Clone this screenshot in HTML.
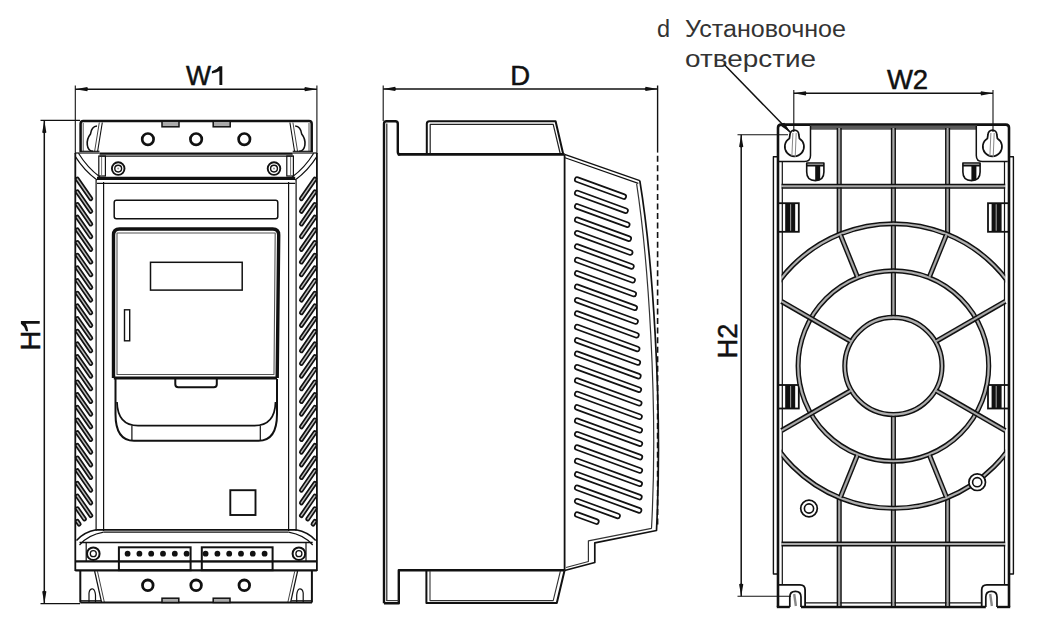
<!DOCTYPE html>
<html><head><meta charset="utf-8"><style>
html,body{margin:0;padding:0;background:#fff;width:1037px;height:630px;overflow:hidden}
svg{display:block} path{stroke-linejoin:round}
text{font-family:"Liberation Sans",sans-serif}
</style></head><body>
<svg width="1037" height="630" viewBox="0 0 1037 630">
<rect width="1037" height="630" fill="#fff"/>
<line x1="75.3" y1="89.2" x2="316.9" y2="89.2" stroke="#111" stroke-width="1.5" />
<line x1="75.3" y1="85.5" x2="75.3" y2="154" stroke="#111" stroke-width="1.1" />
<line x1="316.9" y1="85.5" x2="316.9" y2="154" stroke="#111" stroke-width="1.1" />
<path d="M75.3,89.2 L87.3,87.1 Q88.8,89.2 87.3,91.3 Z" fill="#111"/>
<path d="M316.9,89.2 L304.9,91.3 Q303.4,89.2 304.9,87.1 Z" fill="#111"/>
<text x="186" y="85" font-size="27.5" fill="#111" textLength="25" lengthAdjust="spacingAndGlyphs" stroke="#111" stroke-width="0.5">W</text>
<path d="M219.4,66.2 L222.3,66.2 L222.3,85 L219.4,85 L219.4,71.09 Q216.4,72.97 211.9,73.53 L211.9,71.28 Q216.9,69.96 219.4,66.2 Z" fill="#111"/>
<line x1="40.5" y1="120.4" x2="80" y2="120.4" stroke="#111" stroke-width="1.1" />
<line x1="40.5" y1="603.6" x2="80" y2="603.6" stroke="#111" stroke-width="1.1" />
<line x1="44.3" y1="120.4" x2="44.3" y2="603.6" stroke="#111" stroke-width="1.5" />
<path d="M44.3,120.4 L46.4,132.4 Q44.3,133.9 42.2,132.4 Z" fill="#111"/>
<path d="M44.3,603.6 L42.2,591.6 Q44.3,590.1 46.4,591.6 Z" fill="#111"/>
<g transform="translate(39.7,335.2) rotate(-90)">
<text x="-5.4" y="0" font-size="27.5" fill="#111" text-anchor="middle" stroke="#111" stroke-width="0.5">H</text>
<path d="M11.4,-18.8 L14.3,-18.8 L14.3,0 L11.4,0 L11.4,-13.91 Q8.4,-12.03 3.9,-11.47 L3.9,-13.72 Q8.9,-15.04 11.4,-18.8 Z" fill="#111"/>
</g>
<line x1="383.2" y1="88.9" x2="657.6" y2="88.9" stroke="#111" stroke-width="1.5" />
<line x1="383.2" y1="85.5" x2="383.2" y2="121" stroke="#111" stroke-width="1.1" />
<line x1="657.6" y1="85.5" x2="657.6" y2="152.6" stroke="#111" stroke-width="1.4" />
<line x1="657.6" y1="155.7" x2="657.6" y2="528" stroke="#111" stroke-width="1.6" stroke-dasharray="6 3.55"/>
<path d="M383.2,88.9 L395.2,86.8 Q396.7,88.9 395.2,91 Z" fill="#111"/>
<path d="M657.6,88.9 L645.6,91 Q644.1,88.9 645.6,86.8 Z" fill="#111"/>
<text x="520.2" y="85" font-size="27.5" fill="#111" text-anchor="middle" stroke="#111" stroke-width="0.5">D</text>
<line x1="793.8" y1="93.3" x2="993" y2="93.3" stroke="#111" stroke-width="1.5" />
<line x1="793.8" y1="90" x2="793.8" y2="132" stroke="#111" stroke-width="1.1" />
<line x1="993" y1="90" x2="993" y2="132" stroke="#111" stroke-width="1.1" />
<path d="M793.8,93.3 L805.8,91.2 Q807.3,93.3 805.8,95.4 Z" fill="#111"/>
<path d="M993,93.3 L981,95.4 Q979.5,93.3 981,91.2 Z" fill="#111"/>
<text x="907.5" y="88.6" font-size="27.5" fill="#111" text-anchor="middle" stroke="#111" stroke-width="0.5">W2</text>
<line x1="737.5" y1="134.8" x2="788" y2="134.8" stroke="#111" stroke-width="1.1" />
<line x1="737.5" y1="596.2" x2="791" y2="596.2" stroke="#111" stroke-width="1.1" />
<line x1="741.2" y1="134.8" x2="741.2" y2="596.2" stroke="#111" stroke-width="1.5" />
<path d="M741.2,134.8 L743.3,146.8 Q741.2,148.3 739.1,146.8 Z" fill="#111"/>
<path d="M741.2,596.2 L739.1,584.2 Q741.2,582.7 743.3,584.2 Z" fill="#111"/>
<text x="0" y="0" font-size="27.5" fill="#111" text-anchor="middle" stroke="#111" stroke-width="0.5" transform="translate(736.9,341) rotate(-90)">H2</text>
<text x="657" y="37" font-size="23.5" fill="#333" text-anchor="start" stroke="none">d</text>
<text x="685" y="37" font-size="23.5" fill="#333" text-anchor="start" textLength="161" lengthAdjust="spacingAndGlyphs" stroke="none">Установочное</text>
<text x="685" y="66.8" font-size="23.5" fill="#333" text-anchor="start" textLength="131" lengthAdjust="spacingAndGlyphs" stroke="none">отверстие</text>
<line x1="724.5" y1="64.8" x2="790" y2="132" stroke="#111" stroke-width="1.5" />
<path d="M791,133 L781.05,125.94 Q781.58,123.33 784.2,122.87 Z" fill="#111"/>
<path d="M80.6,152 L80.6,123.7 Q80.6,121 83.3,121 L309,121 Q311.7,121 311.7,123.7 L311.7,152" stroke="#111" stroke-width="2.5" fill="none" />
<line x1="83.2" y1="123" x2="83.2" y2="151" stroke="#555" stroke-width="1.0" />
<line x1="102.3" y1="122.5" x2="97.6" y2="151.5" stroke="#111" stroke-width="1.1" />
<line x1="99.3" y1="122.5" x2="94.6" y2="151.5" stroke="#444" stroke-width="1.0" />
<path d="M97,126 Q91.5,126.5 90.5,134 Q86.5,139 87.3,145 Q88,151 93,151.3" stroke="#111" stroke-width="1.6" fill="none" />
<line x1="80.3" y1="151.3" x2="99.5" y2="151.3" stroke="#111" stroke-width="1.2" />
<line x1="309" y1="123" x2="309" y2="151" stroke="#555" stroke-width="1.0" />
<line x1="289.9" y1="122.5" x2="294.6" y2="151.5" stroke="#111" stroke-width="1.1" />
<line x1="292.9" y1="122.5" x2="297.6" y2="151.5" stroke="#444" stroke-width="1.0" />
<path d="M295.2,126 Q300.7,126.5 301.7,134 Q305.7,139 304.9,145 Q304.2,151 299.2,151.3" stroke="#111" stroke-width="1.6" fill="none" />
<line x1="311.9" y1="151.3" x2="292.7" y2="151.3" stroke="#111" stroke-width="1.2" />
<circle cx="147.9" cy="139.2" r="5.7" stroke="#111" stroke-width="2.7" fill="none"/>
<circle cx="196.1" cy="139.2" r="5.7" stroke="#111" stroke-width="2.7" fill="none"/>
<circle cx="244.3" cy="139.2" r="5.7" stroke="#111" stroke-width="2.7" fill="none"/>
<rect x="162" y="121.2" width="17" height="5.6" rx="0" stroke="#111" stroke-width="1.5" fill="#aaa"/>
<rect x="213.2" y="121.2" width="17" height="5.6" rx="0" stroke="#111" stroke-width="1.5" fill="#aaa"/>
<line x1="99.5" y1="153.6" x2="292.7" y2="153.6" stroke="#111" stroke-width="2.3" />
<line x1="99.5" y1="156.2" x2="292.7" y2="156.2" stroke="#111" stroke-width="1.2" />
<line x1="97" y1="178.3" x2="295.2" y2="178.3" stroke="#111" stroke-width="3.2" />
<line x1="97" y1="183.4" x2="295.2" y2="183.4" stroke="#111" stroke-width="1.1" />
<rect x="98.8" y="156" width="6.6" height="20" rx="0" stroke="#111" stroke-width="1.2" fill="none"/>
<line x1="101.6" y1="157" x2="101.6" y2="175" stroke="#666" stroke-width="0.9" />
<circle cx="118.2" cy="168.6" r="6.3" stroke="#111" stroke-width="1.9" fill="none"/>
<circle cx="118.2" cy="168.6" r="3.4" stroke="#111" stroke-width="1.4" fill="none"/>
<circle cx="118.2" cy="168.6" r="1" stroke="#999" stroke-width="0" fill="#999"/>
<path d="M75.3,156.5 Q84,170.4 97,180" stroke="#111" stroke-width="1.4" fill="none" />
<path d="M78.5,153.2 Q87,167.2 100,177" stroke="#111" stroke-width="1.2" fill="none" />
<line x1="75.3" y1="153" x2="99.5" y2="153" stroke="#111" stroke-width="1.2" />
<line x1="75.3" y1="153" x2="75.3" y2="571" stroke="#111" stroke-width="1.8" />
<line x1="96.1" y1="180" x2="96.1" y2="531" stroke="#111" stroke-width="1.2" />
<line x1="103.6" y1="182" x2="103.6" y2="531" stroke="#111" stroke-width="1.2" />
<rect x="286.8" y="156" width="6.6" height="20" rx="0" stroke="#111" stroke-width="1.2" fill="none"/>
<line x1="290.6" y1="157" x2="290.6" y2="175" stroke="#666" stroke-width="0.9" />
<circle cx="274" cy="168.6" r="6.3" stroke="#111" stroke-width="1.9" fill="none"/>
<circle cx="274" cy="168.6" r="3.4" stroke="#111" stroke-width="1.4" fill="none"/>
<circle cx="274" cy="168.6" r="1" stroke="#999" stroke-width="0" fill="#999"/>
<path d="M316.9,156.5 Q308.2,170.4 295.2,180" stroke="#111" stroke-width="1.4" fill="none" />
<path d="M313.7,153.2 Q305.2,167.2 292.2,177" stroke="#111" stroke-width="1.2" fill="none" />
<line x1="316.9" y1="153" x2="292.7" y2="153" stroke="#111" stroke-width="1.2" />
<line x1="316.9" y1="153" x2="316.9" y2="571" stroke="#111" stroke-width="1.8" />
<line x1="296.1" y1="180" x2="296.1" y2="531" stroke="#111" stroke-width="1.2" />
<line x1="288.6" y1="182" x2="288.6" y2="531" stroke="#111" stroke-width="1.2" />
<line x1="77.3" y1="179.1" x2="90.8" y2="198.7" stroke="#111" stroke-width="4.8" stroke-linecap="round"/>
<line x1="77.3" y1="179.1" x2="90.8" y2="198.7" stroke="#bbb" stroke-width="1.4" stroke-linecap="round"/>
<line x1="314.9" y1="179.1" x2="301.4" y2="198.7" stroke="#111" stroke-width="4.8" stroke-linecap="round"/>
<line x1="314.9" y1="179.1" x2="301.4" y2="198.7" stroke="#bbb" stroke-width="1.4" stroke-linecap="round"/>
<line x1="77.3" y1="191.78" x2="90.8" y2="211.38" stroke="#111" stroke-width="4.8" stroke-linecap="round"/>
<line x1="77.3" y1="191.78" x2="90.8" y2="211.38" stroke="#bbb" stroke-width="1.4" stroke-linecap="round"/>
<line x1="314.9" y1="191.78" x2="301.4" y2="211.38" stroke="#111" stroke-width="4.8" stroke-linecap="round"/>
<line x1="314.9" y1="191.78" x2="301.4" y2="211.38" stroke="#bbb" stroke-width="1.4" stroke-linecap="round"/>
<line x1="77.3" y1="204.45" x2="90.8" y2="224.05" stroke="#111" stroke-width="4.8" stroke-linecap="round"/>
<line x1="77.3" y1="204.45" x2="90.8" y2="224.05" stroke="#bbb" stroke-width="1.4" stroke-linecap="round"/>
<line x1="314.9" y1="204.45" x2="301.4" y2="224.05" stroke="#111" stroke-width="4.8" stroke-linecap="round"/>
<line x1="314.9" y1="204.45" x2="301.4" y2="224.05" stroke="#bbb" stroke-width="1.4" stroke-linecap="round"/>
<line x1="77.3" y1="217.13" x2="90.8" y2="236.73" stroke="#111" stroke-width="4.8" stroke-linecap="round"/>
<line x1="77.3" y1="217.13" x2="90.8" y2="236.73" stroke="#bbb" stroke-width="1.4" stroke-linecap="round"/>
<line x1="314.9" y1="217.13" x2="301.4" y2="236.73" stroke="#111" stroke-width="4.8" stroke-linecap="round"/>
<line x1="314.9" y1="217.13" x2="301.4" y2="236.73" stroke="#bbb" stroke-width="1.4" stroke-linecap="round"/>
<line x1="77.3" y1="229.8" x2="90.8" y2="249.4" stroke="#111" stroke-width="4.8" stroke-linecap="round"/>
<line x1="77.3" y1="229.8" x2="90.8" y2="249.4" stroke="#bbb" stroke-width="1.4" stroke-linecap="round"/>
<line x1="314.9" y1="229.8" x2="301.4" y2="249.4" stroke="#111" stroke-width="4.8" stroke-linecap="round"/>
<line x1="314.9" y1="229.8" x2="301.4" y2="249.4" stroke="#bbb" stroke-width="1.4" stroke-linecap="round"/>
<line x1="77.3" y1="242.48" x2="90.8" y2="262.08" stroke="#111" stroke-width="4.8" stroke-linecap="round"/>
<line x1="77.3" y1="242.48" x2="90.8" y2="262.08" stroke="#bbb" stroke-width="1.4" stroke-linecap="round"/>
<line x1="314.9" y1="242.48" x2="301.4" y2="262.08" stroke="#111" stroke-width="4.8" stroke-linecap="round"/>
<line x1="314.9" y1="242.48" x2="301.4" y2="262.08" stroke="#bbb" stroke-width="1.4" stroke-linecap="round"/>
<line x1="77.3" y1="255.16" x2="90.8" y2="274.76" stroke="#111" stroke-width="4.8" stroke-linecap="round"/>
<line x1="77.3" y1="255.16" x2="90.8" y2="274.76" stroke="#bbb" stroke-width="1.4" stroke-linecap="round"/>
<line x1="314.9" y1="255.16" x2="301.4" y2="274.76" stroke="#111" stroke-width="4.8" stroke-linecap="round"/>
<line x1="314.9" y1="255.16" x2="301.4" y2="274.76" stroke="#bbb" stroke-width="1.4" stroke-linecap="round"/>
<line x1="77.3" y1="267.83" x2="90.8" y2="287.43" stroke="#111" stroke-width="4.8" stroke-linecap="round"/>
<line x1="77.3" y1="267.83" x2="90.8" y2="287.43" stroke="#bbb" stroke-width="1.4" stroke-linecap="round"/>
<line x1="314.9" y1="267.83" x2="301.4" y2="287.43" stroke="#111" stroke-width="4.8" stroke-linecap="round"/>
<line x1="314.9" y1="267.83" x2="301.4" y2="287.43" stroke="#bbb" stroke-width="1.4" stroke-linecap="round"/>
<line x1="77.3" y1="280.51" x2="90.8" y2="300.11" stroke="#111" stroke-width="4.8" stroke-linecap="round"/>
<line x1="77.3" y1="280.51" x2="90.8" y2="300.11" stroke="#bbb" stroke-width="1.4" stroke-linecap="round"/>
<line x1="314.9" y1="280.51" x2="301.4" y2="300.11" stroke="#111" stroke-width="4.8" stroke-linecap="round"/>
<line x1="314.9" y1="280.51" x2="301.4" y2="300.11" stroke="#bbb" stroke-width="1.4" stroke-linecap="round"/>
<line x1="77.3" y1="293.18" x2="90.8" y2="312.78" stroke="#111" stroke-width="4.8" stroke-linecap="round"/>
<line x1="77.3" y1="293.18" x2="90.8" y2="312.78" stroke="#bbb" stroke-width="1.4" stroke-linecap="round"/>
<line x1="314.9" y1="293.18" x2="301.4" y2="312.78" stroke="#111" stroke-width="4.8" stroke-linecap="round"/>
<line x1="314.9" y1="293.18" x2="301.4" y2="312.78" stroke="#bbb" stroke-width="1.4" stroke-linecap="round"/>
<line x1="77.3" y1="305.86" x2="90.8" y2="325.46" stroke="#111" stroke-width="4.8" stroke-linecap="round"/>
<line x1="77.3" y1="305.86" x2="90.8" y2="325.46" stroke="#bbb" stroke-width="1.4" stroke-linecap="round"/>
<line x1="314.9" y1="305.86" x2="301.4" y2="325.46" stroke="#111" stroke-width="4.8" stroke-linecap="round"/>
<line x1="314.9" y1="305.86" x2="301.4" y2="325.46" stroke="#bbb" stroke-width="1.4" stroke-linecap="round"/>
<line x1="77.3" y1="318.54" x2="90.8" y2="338.14" stroke="#111" stroke-width="4.8" stroke-linecap="round"/>
<line x1="77.3" y1="318.54" x2="90.8" y2="338.14" stroke="#bbb" stroke-width="1.4" stroke-linecap="round"/>
<line x1="314.9" y1="318.54" x2="301.4" y2="338.14" stroke="#111" stroke-width="4.8" stroke-linecap="round"/>
<line x1="314.9" y1="318.54" x2="301.4" y2="338.14" stroke="#bbb" stroke-width="1.4" stroke-linecap="round"/>
<line x1="77.3" y1="331.21" x2="90.8" y2="350.81" stroke="#111" stroke-width="4.8" stroke-linecap="round"/>
<line x1="77.3" y1="331.21" x2="90.8" y2="350.81" stroke="#bbb" stroke-width="1.4" stroke-linecap="round"/>
<line x1="314.9" y1="331.21" x2="301.4" y2="350.81" stroke="#111" stroke-width="4.8" stroke-linecap="round"/>
<line x1="314.9" y1="331.21" x2="301.4" y2="350.81" stroke="#bbb" stroke-width="1.4" stroke-linecap="round"/>
<line x1="77.3" y1="343.89" x2="90.8" y2="363.49" stroke="#111" stroke-width="4.8" stroke-linecap="round"/>
<line x1="77.3" y1="343.89" x2="90.8" y2="363.49" stroke="#bbb" stroke-width="1.4" stroke-linecap="round"/>
<line x1="314.9" y1="343.89" x2="301.4" y2="363.49" stroke="#111" stroke-width="4.8" stroke-linecap="round"/>
<line x1="314.9" y1="343.89" x2="301.4" y2="363.49" stroke="#bbb" stroke-width="1.4" stroke-linecap="round"/>
<line x1="77.3" y1="356.56" x2="90.8" y2="376.16" stroke="#111" stroke-width="4.8" stroke-linecap="round"/>
<line x1="77.3" y1="356.56" x2="90.8" y2="376.16" stroke="#bbb" stroke-width="1.4" stroke-linecap="round"/>
<line x1="314.9" y1="356.56" x2="301.4" y2="376.16" stroke="#111" stroke-width="4.8" stroke-linecap="round"/>
<line x1="314.9" y1="356.56" x2="301.4" y2="376.16" stroke="#bbb" stroke-width="1.4" stroke-linecap="round"/>
<line x1="77.3" y1="369.24" x2="90.8" y2="388.84" stroke="#111" stroke-width="4.8" stroke-linecap="round"/>
<line x1="77.3" y1="369.24" x2="90.8" y2="388.84" stroke="#bbb" stroke-width="1.4" stroke-linecap="round"/>
<line x1="314.9" y1="369.24" x2="301.4" y2="388.84" stroke="#111" stroke-width="4.8" stroke-linecap="round"/>
<line x1="314.9" y1="369.24" x2="301.4" y2="388.84" stroke="#bbb" stroke-width="1.4" stroke-linecap="round"/>
<line x1="77.3" y1="381.92" x2="90.8" y2="401.52" stroke="#111" stroke-width="4.8" stroke-linecap="round"/>
<line x1="77.3" y1="381.92" x2="90.8" y2="401.52" stroke="#bbb" stroke-width="1.4" stroke-linecap="round"/>
<line x1="314.9" y1="381.92" x2="301.4" y2="401.52" stroke="#111" stroke-width="4.8" stroke-linecap="round"/>
<line x1="314.9" y1="381.92" x2="301.4" y2="401.52" stroke="#bbb" stroke-width="1.4" stroke-linecap="round"/>
<line x1="77.3" y1="394.59" x2="90.8" y2="414.19" stroke="#111" stroke-width="4.8" stroke-linecap="round"/>
<line x1="77.3" y1="394.59" x2="90.8" y2="414.19" stroke="#bbb" stroke-width="1.4" stroke-linecap="round"/>
<line x1="314.9" y1="394.59" x2="301.4" y2="414.19" stroke="#111" stroke-width="4.8" stroke-linecap="round"/>
<line x1="314.9" y1="394.59" x2="301.4" y2="414.19" stroke="#bbb" stroke-width="1.4" stroke-linecap="round"/>
<line x1="77.3" y1="407.27" x2="90.8" y2="426.87" stroke="#111" stroke-width="4.8" stroke-linecap="round"/>
<line x1="77.3" y1="407.27" x2="90.8" y2="426.87" stroke="#bbb" stroke-width="1.4" stroke-linecap="round"/>
<line x1="314.9" y1="407.27" x2="301.4" y2="426.87" stroke="#111" stroke-width="4.8" stroke-linecap="round"/>
<line x1="314.9" y1="407.27" x2="301.4" y2="426.87" stroke="#bbb" stroke-width="1.4" stroke-linecap="round"/>
<line x1="77.3" y1="419.94" x2="90.8" y2="439.54" stroke="#111" stroke-width="4.8" stroke-linecap="round"/>
<line x1="77.3" y1="419.94" x2="90.8" y2="439.54" stroke="#bbb" stroke-width="1.4" stroke-linecap="round"/>
<line x1="314.9" y1="419.94" x2="301.4" y2="439.54" stroke="#111" stroke-width="4.8" stroke-linecap="round"/>
<line x1="314.9" y1="419.94" x2="301.4" y2="439.54" stroke="#bbb" stroke-width="1.4" stroke-linecap="round"/>
<line x1="77.3" y1="432.62" x2="90.8" y2="452.22" stroke="#111" stroke-width="4.8" stroke-linecap="round"/>
<line x1="77.3" y1="432.62" x2="90.8" y2="452.22" stroke="#bbb" stroke-width="1.4" stroke-linecap="round"/>
<line x1="314.9" y1="432.62" x2="301.4" y2="452.22" stroke="#111" stroke-width="4.8" stroke-linecap="round"/>
<line x1="314.9" y1="432.62" x2="301.4" y2="452.22" stroke="#bbb" stroke-width="1.4" stroke-linecap="round"/>
<line x1="77.3" y1="445.3" x2="90.8" y2="464.9" stroke="#111" stroke-width="4.8" stroke-linecap="round"/>
<line x1="77.3" y1="445.3" x2="90.8" y2="464.9" stroke="#bbb" stroke-width="1.4" stroke-linecap="round"/>
<line x1="314.9" y1="445.3" x2="301.4" y2="464.9" stroke="#111" stroke-width="4.8" stroke-linecap="round"/>
<line x1="314.9" y1="445.3" x2="301.4" y2="464.9" stroke="#bbb" stroke-width="1.4" stroke-linecap="round"/>
<line x1="77.3" y1="457.97" x2="90.8" y2="477.57" stroke="#111" stroke-width="4.8" stroke-linecap="round"/>
<line x1="77.3" y1="457.97" x2="90.8" y2="477.57" stroke="#bbb" stroke-width="1.4" stroke-linecap="round"/>
<line x1="314.9" y1="457.97" x2="301.4" y2="477.57" stroke="#111" stroke-width="4.8" stroke-linecap="round"/>
<line x1="314.9" y1="457.97" x2="301.4" y2="477.57" stroke="#bbb" stroke-width="1.4" stroke-linecap="round"/>
<line x1="77.3" y1="470.65" x2="90.8" y2="490.25" stroke="#111" stroke-width="4.8" stroke-linecap="round"/>
<line x1="77.3" y1="470.65" x2="90.8" y2="490.25" stroke="#bbb" stroke-width="1.4" stroke-linecap="round"/>
<line x1="314.9" y1="470.65" x2="301.4" y2="490.25" stroke="#111" stroke-width="4.8" stroke-linecap="round"/>
<line x1="314.9" y1="470.65" x2="301.4" y2="490.25" stroke="#bbb" stroke-width="1.4" stroke-linecap="round"/>
<line x1="77.3" y1="483.32" x2="90.8" y2="502.92" stroke="#111" stroke-width="4.8" stroke-linecap="round"/>
<line x1="77.3" y1="483.32" x2="90.8" y2="502.92" stroke="#bbb" stroke-width="1.4" stroke-linecap="round"/>
<line x1="314.9" y1="483.32" x2="301.4" y2="502.92" stroke="#111" stroke-width="4.8" stroke-linecap="round"/>
<line x1="314.9" y1="483.32" x2="301.4" y2="502.92" stroke="#bbb" stroke-width="1.4" stroke-linecap="round"/>
<line x1="77.3" y1="496" x2="90.8" y2="515.6" stroke="#111" stroke-width="4.8" stroke-linecap="round"/>
<line x1="77.3" y1="496" x2="90.8" y2="515.6" stroke="#bbb" stroke-width="1.4" stroke-linecap="round"/>
<line x1="314.9" y1="496" x2="301.4" y2="515.6" stroke="#111" stroke-width="4.8" stroke-linecap="round"/>
<line x1="314.9" y1="496" x2="301.4" y2="515.6" stroke="#bbb" stroke-width="1.4" stroke-linecap="round"/>
<line x1="77.3" y1="508.68" x2="84.4" y2="518.98" stroke="#111" stroke-width="4.8" stroke-linecap="round"/>
<line x1="77.3" y1="508.68" x2="84.4" y2="518.98" stroke="#bbb" stroke-width="1.4" stroke-linecap="round"/>
<line x1="314.9" y1="508.68" x2="307.8" y2="518.98" stroke="#111" stroke-width="4.8" stroke-linecap="round"/>
<line x1="314.9" y1="508.68" x2="307.8" y2="518.98" stroke="#bbb" stroke-width="1.4" stroke-linecap="round"/>
<line x1="77.3" y1="521.35" x2="79.2" y2="524.11" stroke="#111" stroke-width="4.8" stroke-linecap="round"/>
<line x1="77.3" y1="521.35" x2="79.2" y2="524.11" stroke="#bbb" stroke-width="1.4" stroke-linecap="round"/>
<line x1="314.9" y1="521.35" x2="313" y2="524.11" stroke="#111" stroke-width="4.8" stroke-linecap="round"/>
<line x1="314.9" y1="521.35" x2="313" y2="524.11" stroke="#bbb" stroke-width="1.4" stroke-linecap="round"/>
<rect x="114.2" y="200.3" width="163.6" height="18.4" rx="2.2" stroke="#111" stroke-width="1.5" fill="none"/>
<path d="M113.5,378 L113.5,235 Q113.5,229 119.5,229 L272.7,229 Q278.7,229 278.7,235 L277.2,378" stroke="#111" stroke-width="3.4" fill="none" />
<path d="M117,374.5 L117,233 L275.2,233 L274,374.5 Z" stroke="#555" stroke-width="1.1" fill="none" />
<path d="M113.8,378 L277,378" stroke="#111" stroke-width="3.2" fill="none" />
<rect x="150.5" y="262.3" width="91.7" height="27.8" rx="0" stroke="#111" stroke-width="1.5" fill="none"/>
<rect x="124.5" y="309.8" width="5.2" height="31" rx="0" stroke="#111" stroke-width="1.4" fill="none"/>
<path d="M175.3,379 L175.3,384.2 Q175.3,387.2 178.3,387.2 L213.8,387.2 Q216.8,387.2 216.8,384.2 L216.8,379" stroke="#111" stroke-width="2.0" fill="none" />
<path d="M115.5,379 L115.5,414 Q115.5,440.8 134,440.8 L258.5,440.8 Q277,440.8 277,414 L277,379" stroke="#111" stroke-width="2.0" fill="none" />
<path d="M117,402 Q117.6,425.6 138,425.6 L254.5,425.6 Q275,425.6 275.5,402" stroke="#111" stroke-width="1.7" fill="none" />
<line x1="131.9" y1="425.6" x2="131.9" y2="440.5" stroke="#111" stroke-width="1.2" />
<line x1="260.3" y1="425.6" x2="260.3" y2="440.5" stroke="#111" stroke-width="1.2" />
<rect x="230.3" y="490.2" width="25.2" height="24.8" rx="0" stroke="#111" stroke-width="1.9" fill="none"/>
<line x1="96.2" y1="529.8" x2="296" y2="529.8" stroke="#111" stroke-width="1.7" />
<line x1="103.6" y1="532.2" x2="288.6" y2="532.2" stroke="#111" stroke-width="1.3" />
<line x1="79.5" y1="542.6" x2="312.7" y2="542.6" stroke="#111" stroke-width="1.5" />
<line x1="76" y1="561.3" x2="316.2" y2="561.3" stroke="#111" stroke-width="2.2" />
<line x1="75.3" y1="570.3" x2="316.9" y2="570.3" stroke="#111" stroke-width="2.2" />
<path d="M96.2,529.8 Q84,532 76.5,540.5" stroke="#111" stroke-width="1.5" fill="none" />
<path d="M103.6,532.2 Q88,535 79.5,545" stroke="#111" stroke-width="1.2" fill="none" />
<line x1="86.2" y1="542.6" x2="86.2" y2="562" stroke="#111" stroke-width="1.2" />
<circle cx="93.3" cy="553.7" r="6.3" stroke="#111" stroke-width="2.0" fill="none"/>
<circle cx="93.3" cy="553.7" r="3" stroke="#111" stroke-width="1.3" fill="none"/>
<line x1="80.3" y1="570.3" x2="80.3" y2="602.5" stroke="#111" stroke-width="2.0" />
<line x1="94.6" y1="571" x2="101.5" y2="602" stroke="#111" stroke-width="1.2" />
<line x1="97.4" y1="571" x2="104.3" y2="602" stroke="#444" stroke-width="1.0" />
<path d="M89,602 L89,593 Q89.5,588.5 93,589 Q95,590 95.5,595 L95.5,602" stroke="#111" stroke-width="1.2" fill="none" />
<line x1="80.3" y1="600.8" x2="101" y2="600.8" stroke="#111" stroke-width="1.3" />
<path d="M296,529.8 Q308.2,532 315.7,540.5" stroke="#111" stroke-width="1.5" fill="none" />
<path d="M288.6,532.2 Q304.2,535 312.7,545" stroke="#111" stroke-width="1.2" fill="none" />
<line x1="306" y1="542.6" x2="306" y2="562" stroke="#111" stroke-width="1.2" />
<circle cx="298.9" cy="553.7" r="6.3" stroke="#111" stroke-width="2.0" fill="none"/>
<circle cx="298.9" cy="553.7" r="3" stroke="#111" stroke-width="1.3" fill="none"/>
<line x1="311.9" y1="570.3" x2="311.9" y2="602.5" stroke="#111" stroke-width="2.0" />
<line x1="297.6" y1="571" x2="290.7" y2="602" stroke="#111" stroke-width="1.2" />
<line x1="294.8" y1="571" x2="287.9" y2="602" stroke="#444" stroke-width="1.0" />
<path d="M303.2,602 L303.2,593 Q302.7,588.5 299.2,589 Q297.2,590 296.7,595 L296.7,602" stroke="#111" stroke-width="1.2" fill="none" />
<line x1="311.9" y1="600.8" x2="291.2" y2="600.8" stroke="#111" stroke-width="1.3" />
<rect x="118.9" y="547.3" width="71.7" height="22.9" rx="0" stroke="#111" stroke-width="2.0" fill="none"/>
<line x1="118.9" y1="561.6" x2="190.6" y2="561.6" stroke="#111" stroke-width="1.4" />
<rect x="201.8" y="547.3" width="70.8" height="22.9" rx="0" stroke="#111" stroke-width="2.0" fill="none"/>
<line x1="201.8" y1="561.6" x2="272.6" y2="561.6" stroke="#111" stroke-width="1.4" />
<circle cx="127.6" cy="553.7" r="2.9" stroke="#111" stroke-width="0" fill="#111"/>
<circle cx="264.6" cy="553.7" r="2.9" stroke="#111" stroke-width="0" fill="#111"/>
<circle cx="139.4" cy="553.7" r="2.9" stroke="#111" stroke-width="0" fill="#111"/>
<circle cx="252.8" cy="553.7" r="2.9" stroke="#111" stroke-width="0" fill="#111"/>
<circle cx="151.2" cy="553.7" r="2.9" stroke="#111" stroke-width="0" fill="#111"/>
<circle cx="241" cy="553.7" r="2.9" stroke="#111" stroke-width="0" fill="#111"/>
<circle cx="163" cy="553.7" r="2.9" stroke="#111" stroke-width="0" fill="#111"/>
<circle cx="229.2" cy="553.7" r="2.9" stroke="#111" stroke-width="0" fill="#111"/>
<circle cx="174.8" cy="553.7" r="2.9" stroke="#111" stroke-width="0" fill="#111"/>
<circle cx="217.4" cy="553.7" r="2.9" stroke="#111" stroke-width="0" fill="#111"/>
<circle cx="186.6" cy="553.7" r="2.9" stroke="#111" stroke-width="0" fill="#111"/>
<circle cx="205.6" cy="553.7" r="2.9" stroke="#111" stroke-width="0" fill="#111"/>
<line x1="80.3" y1="602.5" x2="312" y2="602.5" stroke="#111" stroke-width="2.2" />
<circle cx="147.8" cy="585.3" r="5.3" stroke="#111" stroke-width="2.8" fill="none"/>
<circle cx="196.1" cy="585.3" r="5.3" stroke="#111" stroke-width="2.8" fill="none"/>
<circle cx="244.3" cy="585.3" r="5.3" stroke="#111" stroke-width="2.8" fill="none"/>
<rect x="162" y="598.2" width="16.8" height="4.3" rx="0" stroke="#111" stroke-width="1.5" fill="#aaa"/>
<rect x="213.2" y="598.2" width="16.8" height="4.3" rx="0" stroke="#111" stroke-width="1.5" fill="#aaa"/>
<path d="M384,603.2 L384,123.7 Q384,121.2 386.5,121.2 L395.3,121.2 Q397.8,121.2 397.8,123.7 L397.8,151.9 Q397.8,154.4 400.3,154.4" stroke="#111" stroke-width="2.4" fill="none" />
<line x1="386.8" y1="123.5" x2="386.8" y2="601" stroke="#222" stroke-width="1.2" />
<path d="M426.8,154.4 L426.8,123.7 Q426.8,121.2 429.3,121.2 L555.6,121.2 L563.3,154.4" stroke="#111" stroke-width="2.0" fill="none" />
<path d="M430.2,154 L430.2,124.4 L553.2,124.4 L560.3,154" stroke="#222" stroke-width="1.2" fill="none" />
<line x1="397.8" y1="154.4" x2="564.6" y2="154.4" stroke="#111" stroke-width="2.6" />
<line x1="564.6" y1="154.4" x2="564.6" y2="570" stroke="#111" stroke-width="1.8" />
<line x1="564.6" y1="154.4" x2="639.8" y2="180.6" stroke="#111" stroke-width="1.5" />
<line x1="565" y1="157.8" x2="638.3" y2="183.4" stroke="#111" stroke-width="1.2" />
<path d="M639.8,180.6 C652,255 663,400 656.5,530.5 L594.8,542.8 L594.8,562.5 L564.6,570.5" stroke="#111" stroke-width="1.7" fill="none" />
<path d="M636.6,183.6 C647.5,255 658.5,400 651.5,528.3 L588.4,540.8 L588.4,561.5 L566,567.5" stroke="#333" stroke-width="1.2" fill="none" />
<path d="M384,603.2 L398.8,603.2 L398.8,570.2 L564.6,570.2" stroke="#111" stroke-width="2.4" fill="none" />
<path d="M426.4,570.2 L426.4,603 L556.8,603 L564.6,570.2" stroke="#111" stroke-width="2.0" fill="none" />
<path d="M430,571 L430,600.6 L553.2,600.6 L560.4,571" stroke="#333" stroke-width="1.1" fill="none" />
<line x1="386.5" y1="600.6" x2="398.8" y2="600.6" stroke="#333" stroke-width="1.1" />
<line x1="577.2" y1="179.6" x2="623.75" y2="196.59" stroke="#111" stroke-width="6.4" stroke-linecap="round"/>
<line x1="577.2" y1="179.6" x2="623.75" y2="196.59" stroke="#fff" stroke-width="3.0" stroke-linecap="round"/>
<line x1="577.2" y1="193" x2="625.57" y2="210.65" stroke="#111" stroke-width="6.4" stroke-linecap="round"/>
<line x1="577.2" y1="193" x2="625.57" y2="210.65" stroke="#fff" stroke-width="3.0" stroke-linecap="round"/>
<line x1="577.2" y1="206.4" x2="627.25" y2="224.67" stroke="#111" stroke-width="6.4" stroke-linecap="round"/>
<line x1="577.2" y1="206.4" x2="627.25" y2="224.67" stroke="#fff" stroke-width="3.0" stroke-linecap="round"/>
<line x1="577.2" y1="219.8" x2="628.76" y2="238.62" stroke="#111" stroke-width="6.4" stroke-linecap="round"/>
<line x1="577.2" y1="219.8" x2="628.76" y2="238.62" stroke="#fff" stroke-width="3.0" stroke-linecap="round"/>
<line x1="577.2" y1="233.2" x2="630.17" y2="252.53" stroke="#111" stroke-width="6.4" stroke-linecap="round"/>
<line x1="577.2" y1="233.2" x2="630.17" y2="252.53" stroke="#fff" stroke-width="3.0" stroke-linecap="round"/>
<line x1="577.2" y1="246.6" x2="631.44" y2="266.4" stroke="#111" stroke-width="6.4" stroke-linecap="round"/>
<line x1="577.2" y1="246.6" x2="631.44" y2="266.4" stroke="#fff" stroke-width="3.0" stroke-linecap="round"/>
<line x1="577.2" y1="260" x2="632.65" y2="280.24" stroke="#111" stroke-width="6.4" stroke-linecap="round"/>
<line x1="577.2" y1="260" x2="632.65" y2="280.24" stroke="#fff" stroke-width="3.0" stroke-linecap="round"/>
<line x1="577.2" y1="273.4" x2="633.73" y2="294.03" stroke="#111" stroke-width="6.4" stroke-linecap="round"/>
<line x1="577.2" y1="273.4" x2="633.73" y2="294.03" stroke="#fff" stroke-width="3.0" stroke-linecap="round"/>
<line x1="577.2" y1="286.8" x2="634.7" y2="307.79" stroke="#111" stroke-width="6.4" stroke-linecap="round"/>
<line x1="577.2" y1="286.8" x2="634.7" y2="307.79" stroke="#fff" stroke-width="3.0" stroke-linecap="round"/>
<line x1="577.2" y1="300.2" x2="635.61" y2="321.52" stroke="#111" stroke-width="6.4" stroke-linecap="round"/>
<line x1="577.2" y1="300.2" x2="635.61" y2="321.52" stroke="#fff" stroke-width="3.0" stroke-linecap="round"/>
<line x1="577.2" y1="313.6" x2="636.45" y2="335.23" stroke="#111" stroke-width="6.4" stroke-linecap="round"/>
<line x1="577.2" y1="313.6" x2="636.45" y2="335.23" stroke="#fff" stroke-width="3.0" stroke-linecap="round"/>
<line x1="577.2" y1="327" x2="637.16" y2="348.89" stroke="#111" stroke-width="6.4" stroke-linecap="round"/>
<line x1="577.2" y1="327" x2="637.16" y2="348.89" stroke="#fff" stroke-width="3.0" stroke-linecap="round"/>
<line x1="577.2" y1="340.4" x2="637.83" y2="362.53" stroke="#111" stroke-width="6.4" stroke-linecap="round"/>
<line x1="577.2" y1="340.4" x2="637.83" y2="362.53" stroke="#fff" stroke-width="3.0" stroke-linecap="round"/>
<line x1="577.2" y1="353.8" x2="638.39" y2="376.13" stroke="#111" stroke-width="6.4" stroke-linecap="round"/>
<line x1="577.2" y1="353.8" x2="638.39" y2="376.13" stroke="#fff" stroke-width="3.0" stroke-linecap="round"/>
<line x1="577.2" y1="367.2" x2="638.85" y2="389.7" stroke="#111" stroke-width="6.4" stroke-linecap="round"/>
<line x1="577.2" y1="367.2" x2="638.85" y2="389.7" stroke="#fff" stroke-width="3.0" stroke-linecap="round"/>
<line x1="577.2" y1="380.6" x2="639.25" y2="403.25" stroke="#111" stroke-width="6.4" stroke-linecap="round"/>
<line x1="577.2" y1="380.6" x2="639.25" y2="403.25" stroke="#fff" stroke-width="3.0" stroke-linecap="round"/>
<line x1="577.2" y1="394" x2="639.56" y2="416.76" stroke="#111" stroke-width="6.4" stroke-linecap="round"/>
<line x1="577.2" y1="394" x2="639.56" y2="416.76" stroke="#fff" stroke-width="3.0" stroke-linecap="round"/>
<line x1="577.2" y1="407.4" x2="639.77" y2="430.24" stroke="#111" stroke-width="6.4" stroke-linecap="round"/>
<line x1="577.2" y1="407.4" x2="639.77" y2="430.24" stroke="#fff" stroke-width="3.0" stroke-linecap="round"/>
<line x1="577.2" y1="420.8" x2="639.9" y2="443.68" stroke="#111" stroke-width="6.4" stroke-linecap="round"/>
<line x1="577.2" y1="420.8" x2="639.9" y2="443.68" stroke="#fff" stroke-width="3.0" stroke-linecap="round"/>
<line x1="577.2" y1="434.2" x2="639.93" y2="457.1" stroke="#111" stroke-width="6.4" stroke-linecap="round"/>
<line x1="577.2" y1="434.2" x2="639.93" y2="457.1" stroke="#fff" stroke-width="3.0" stroke-linecap="round"/>
<line x1="577.2" y1="447.6" x2="639.87" y2="470.47" stroke="#111" stroke-width="6.4" stroke-linecap="round"/>
<line x1="577.2" y1="447.6" x2="639.87" y2="470.47" stroke="#fff" stroke-width="3.0" stroke-linecap="round"/>
<line x1="577.2" y1="461" x2="639.7" y2="483.81" stroke="#111" stroke-width="6.4" stroke-linecap="round"/>
<line x1="577.2" y1="461" x2="639.7" y2="483.81" stroke="#fff" stroke-width="3.0" stroke-linecap="round"/>
<line x1="577.2" y1="474.4" x2="639.43" y2="497.11" stroke="#111" stroke-width="6.4" stroke-linecap="round"/>
<line x1="577.2" y1="474.4" x2="639.43" y2="497.11" stroke="#fff" stroke-width="3.0" stroke-linecap="round"/>
<line x1="577.2" y1="487.8" x2="639.05" y2="510.38" stroke="#111" stroke-width="6.4" stroke-linecap="round"/>
<line x1="577.2" y1="487.8" x2="639.05" y2="510.38" stroke="#fff" stroke-width="3.0" stroke-linecap="round"/>
<line x1="577.2" y1="501.2" x2="617.6" y2="515.95" stroke="#111" stroke-width="6.4" stroke-linecap="round"/>
<line x1="577.2" y1="501.2" x2="617.6" y2="515.95" stroke="#fff" stroke-width="3.0" stroke-linecap="round"/>
<line x1="577.2" y1="514.6" x2="596.4" y2="521.61" stroke="#111" stroke-width="6.4" stroke-linecap="round"/>
<line x1="577.2" y1="514.6" x2="596.4" y2="521.61" stroke="#fff" stroke-width="3.0" stroke-linecap="round"/>
<path d="M778,607 L778,127.8 Q778,124.6 781.2,124.6 L1005.8,124.6 Q1009,124.6 1009,127.8 L1009,607" stroke="#111" stroke-width="2.6" fill="none" stroke-linejoin="round"/>
<line x1="810" y1="127.6" x2="977" y2="127.6" stroke="#5a5a5a" stroke-width="4.4" />
<line x1="776.8" y1="607" x2="789.8" y2="607" stroke="#111" stroke-width="2.4" />
<line x1="801" y1="607" x2="985.8" y2="607" stroke="#111" stroke-width="2.4" />
<line x1="997" y1="607" x2="1010.2" y2="607" stroke="#111" stroke-width="2.4" />
<line x1="805" y1="602.8" x2="982" y2="602.8" stroke="#111" stroke-width="1.3" />
<path d="M778,156.7 L773.4,156.7 L773.4,574 L778,574" stroke="#111" stroke-width="1.4" fill="none" />
<line x1="782.3" y1="161.5" x2="782.3" y2="585" stroke="#111" stroke-width="1.2" />
<path d="M810.5,126 L810.5,155.5 Q810.5,161.5 804.5,161.5 L779,161.5" stroke="#111" stroke-width="1.5" fill="none" />
<path d="M790,134.5 A4.4,4.4 0 0 1 798.8,134.5 L799.4,138.5 A9.6,9.6 0 1 1 789.4,138.5 Z" stroke="#111" stroke-width="1.7" fill="none"/>
<line x1="792.9" y1="133" x2="791.9" y2="156" stroke="#888" stroke-width="1.0" />
<line x1="796.2" y1="133" x2="795.2" y2="157" stroke="#888" stroke-width="1.0" />
<path d="M806.7,163 L823.9,163 L823.9,172 Q823.9,180.6 815.3,180.6 Q806.7,180.6 806.7,172 Z" stroke="#111" stroke-width="1.6" fill="none"/>
<line x1="806.7" y1="165.5" x2="823.9" y2="165.5" stroke="#111" stroke-width="2.0" />
<rect x="815.2" y="166" width="5" height="14" fill="#111"/>
<rect x="778" y="203.2" width="20.8" height="28.6" rx="0" stroke="#111" stroke-width="1.8" fill="none"/>
<rect x="785.2" y="203.2" width="10" height="28.6" fill="#111"/>
<line x1="790.6" y1="204.2" x2="790.6" y2="230.8" stroke="#999" stroke-width="1.1" />
<rect x="778" y="385" width="20.8" height="23.5" rx="0" stroke="#111" stroke-width="1.8" fill="none"/>
<rect x="785.2" y="385" width="10" height="23.5" fill="#111"/>
<line x1="790.6" y1="386" x2="790.6" y2="407.5" stroke="#999" stroke-width="1.1" />
<path d="M778,584.9 L800,584.9 Q805.1,584.9 805.1,590 L805.1,607" stroke="#111" stroke-width="1.8" fill="none" />
<path d="M789.8,607 L789.8,597 Q789.8,591.4 795.4,591.4 Q801,591.4 801,597 L801,607" stroke="#111" stroke-width="1.7" fill="none" />
<line x1="794.2" y1="594" x2="795.9" y2="606" stroke="#888" stroke-width="2.4" />
<path d="M1008.8,156.7 L1013.4,156.7 L1013.4,574 L1008.8,574" stroke="#111" stroke-width="1.4" fill="none" />
<line x1="1004.5" y1="161.5" x2="1004.5" y2="585" stroke="#111" stroke-width="1.2" />
<path d="M976.3,126 L976.3,155.5 Q976.3,161.5 982.3,161.5 L1007.8,161.5" stroke="#111" stroke-width="1.5" fill="none" />
<path d="M988,134.5 A4.4,4.4 0 0 1 996.8,134.5 L997.4,138.5 A9.6,9.6 0 1 1 987.4,138.5 Z" stroke="#111" stroke-width="1.7" fill="none"/>
<line x1="990.9" y1="133" x2="989.9" y2="156" stroke="#888" stroke-width="1.0" />
<line x1="994.2" y1="133" x2="993.2" y2="157" stroke="#888" stroke-width="1.0" />
<path d="M962.9,163 L980.1,163 L980.1,172 Q980.1,180.6 971.5,180.6 Q962.9,180.6 962.9,172 Z" stroke="#111" stroke-width="1.6" fill="none"/>
<line x1="962.9" y1="165.5" x2="980.1" y2="165.5" stroke="#111" stroke-width="2.0" />
<rect x="971.4" y="166" width="5" height="14" fill="#111"/>
<rect x="988" y="203.2" width="20.8" height="28.6" rx="0" stroke="#111" stroke-width="1.8" fill="none"/>
<rect x="991.6" y="203.2" width="10" height="28.6" fill="#111"/>
<line x1="996.2" y1="204.2" x2="996.2" y2="230.8" stroke="#999" stroke-width="1.1" />
<rect x="988" y="385" width="20.8" height="23.5" rx="0" stroke="#111" stroke-width="1.8" fill="none"/>
<rect x="991.6" y="385" width="10" height="23.5" fill="#111"/>
<line x1="996.2" y1="386" x2="996.2" y2="407.5" stroke="#999" stroke-width="1.1" />
<path d="M1008.8,584.9 L986.8,584.9 Q981.7,584.9 981.7,590 L981.7,607" stroke="#111" stroke-width="1.8" fill="none" />
<path d="M985.8,607 L985.8,597 Q985.8,591.4 991.4,591.4 Q997,591.4 997,597 L997,607" stroke="#111" stroke-width="1.7" fill="none" />
<line x1="990.2" y1="594" x2="991.9" y2="606" stroke="#888" stroke-width="2.4" />
<line x1="839.2" y1="128" x2="839.2" y2="235.43" stroke="#a8a8a8" stroke-width="2.5" />
<line x1="837.4" y1="128" x2="837.4" y2="235.43" stroke="#111" stroke-width="1.5" />
<line x1="841" y1="128" x2="841" y2="235.43" stroke="#111" stroke-width="1.5" />
<line x1="839.2" y1="496.57" x2="839.2" y2="606" stroke="#a8a8a8" stroke-width="2.5" />
<line x1="837.4" y1="496.57" x2="837.4" y2="606" stroke="#111" stroke-width="1.5" />
<line x1="841" y1="496.57" x2="841" y2="606" stroke="#111" stroke-width="1.5" />
<line x1="893.4" y1="128" x2="893.4" y2="316.4" stroke="#a8a8a8" stroke-width="2.5" />
<line x1="891.6" y1="128" x2="891.6" y2="316.4" stroke="#111" stroke-width="1.5" />
<line x1="895.2" y1="128" x2="895.2" y2="316.4" stroke="#111" stroke-width="1.5" />
<line x1="893.4" y1="415.6" x2="893.4" y2="606" stroke="#a8a8a8" stroke-width="2.5" />
<line x1="891.6" y1="415.6" x2="891.6" y2="606" stroke="#111" stroke-width="1.5" />
<line x1="895.2" y1="415.6" x2="895.2" y2="606" stroke="#111" stroke-width="1.5" />
<line x1="947.6" y1="128" x2="947.6" y2="235.43" stroke="#a8a8a8" stroke-width="2.5" />
<line x1="945.8" y1="128" x2="945.8" y2="235.43" stroke="#111" stroke-width="1.5" />
<line x1="949.4" y1="128" x2="949.4" y2="235.43" stroke="#111" stroke-width="1.5" />
<line x1="947.6" y1="496.57" x2="947.6" y2="606" stroke="#a8a8a8" stroke-width="2.5" />
<line x1="945.8" y1="496.57" x2="945.8" y2="606" stroke="#111" stroke-width="1.5" />
<line x1="949.4" y1="496.57" x2="949.4" y2="606" stroke="#111" stroke-width="1.5" />
<line x1="781.6" y1="186.3" x2="1005.2" y2="186.3" stroke="#a8a8a8" stroke-width="2.5" />
<line x1="781.6" y1="188.1" x2="1005.2" y2="188.1" stroke="#111" stroke-width="1.5" />
<line x1="781.6" y1="184.5" x2="1005.2" y2="184.5" stroke="#111" stroke-width="1.5" />
<line x1="781.6" y1="544" x2="1005.2" y2="544" stroke="#a8a8a8" stroke-width="2.5" />
<line x1="781.6" y1="545.8" x2="1005.2" y2="545.8" stroke="#111" stroke-width="1.5" />
<line x1="781.6" y1="542.2" x2="1005.2" y2="542.2" stroke="#111" stroke-width="1.5" />
<circle cx="893.4" cy="366" r="48.6" stroke="#b0b0b0" stroke-width="2.4" fill="none"/>
<circle cx="893.4" cy="366" r="46.8" stroke="#111" stroke-width="1.5" fill="none"/>
<circle cx="893.4" cy="366" r="50.4" stroke="#111" stroke-width="1.5" fill="none"/>
<circle cx="893.4" cy="366" r="95.3" stroke="#b0b0b0" stroke-width="2.4" fill="none"/>
<circle cx="893.4" cy="366" r="93.5" stroke="#111" stroke-width="1.5" fill="none"/>
<circle cx="893.4" cy="366" r="97.1" stroke="#111" stroke-width="1.5" fill="none"/>
<clipPath id="pc"><rect x="781.6" y="126" width="223.6" height="480"/></clipPath>
<g clip-path="url(#pc)"><circle cx="893.4" cy="366" r="142.3" stroke="#b0b0b0" stroke-width="2.4" fill="none"/><circle cx="893.4" cy="366" r="140.5" stroke="#111" stroke-width="1.5" fill="none"/><circle cx="893.4" cy="366" r="144.10000000000002" stroke="#111" stroke-width="1.5" fill="none"/></g>
<line x1="936.35" y1="341.2" x2="1005.2" y2="301.45" stroke="#a8a8a8" stroke-width="2.5" />
<line x1="937.25" y1="342.76" x2="1006.1" y2="303.01" stroke="#111" stroke-width="1.5" />
<line x1="935.45" y1="339.64" x2="1004.3" y2="299.89" stroke="#111" stroke-width="1.5" />
<line x1="850.45" y1="341.2" x2="781.6" y2="301.45" stroke="#a8a8a8" stroke-width="2.5" />
<line x1="851.35" y1="339.64" x2="782.5" y2="299.89" stroke="#111" stroke-width="1.5" />
<line x1="849.55" y1="342.76" x2="780.7" y2="303.01" stroke="#111" stroke-width="1.5" />
<line x1="850.45" y1="390.8" x2="781.6" y2="430.55" stroke="#a8a8a8" stroke-width="2.5" />
<line x1="849.55" y1="389.24" x2="780.7" y2="428.99" stroke="#111" stroke-width="1.5" />
<line x1="851.35" y1="392.36" x2="782.5" y2="432.11" stroke="#111" stroke-width="1.5" />
<line x1="936.35" y1="390.8" x2="1005.2" y2="430.55" stroke="#a8a8a8" stroke-width="2.5" />
<line x1="935.45" y1="392.36" x2="1004.3" y2="432.11" stroke="#111" stroke-width="1.5" />
<line x1="937.25" y1="389.24" x2="1006.1" y2="428.99" stroke="#111" stroke-width="1.5" />
<line x1="929.47" y1="276.71" x2="946.33" y2="234.99" stroke="#a8a8a8" stroke-width="2.5" />
<line x1="931.14" y1="277.39" x2="948" y2="235.66" stroke="#111" stroke-width="1.5" />
<line x1="927.81" y1="276.04" x2="944.66" y2="234.31" stroke="#111" stroke-width="1.5" />
<line x1="857.33" y1="276.71" x2="840.47" y2="234.99" stroke="#a8a8a8" stroke-width="2.5" />
<line x1="858.99" y1="276.04" x2="842.14" y2="234.31" stroke="#111" stroke-width="1.5" />
<line x1="855.66" y1="277.39" x2="838.8" y2="235.66" stroke="#111" stroke-width="1.5" />
<line x1="857.33" y1="455.29" x2="840.47" y2="497.01" stroke="#a8a8a8" stroke-width="2.5" />
<line x1="855.66" y1="454.61" x2="838.8" y2="496.34" stroke="#111" stroke-width="1.5" />
<line x1="858.99" y1="455.96" x2="842.14" y2="497.69" stroke="#111" stroke-width="1.5" />
<line x1="929.47" y1="455.29" x2="946.33" y2="497.01" stroke="#a8a8a8" stroke-width="2.5" />
<line x1="927.81" y1="455.96" x2="944.66" y2="497.69" stroke="#111" stroke-width="1.5" />
<line x1="931.14" y1="454.61" x2="948" y2="496.34" stroke="#111" stroke-width="1.5" />
<circle cx="809" cy="508.5" r="8.3" stroke="#111" stroke-width="1.7" fill="#fff"/>
<circle cx="809" cy="508.5" r="4.6" stroke="#111" stroke-width="1.6" fill="none"/>
<circle cx="977.2" cy="482.2" r="8.3" stroke="#111" stroke-width="1.7" fill="#fff"/>
<circle cx="977.2" cy="482.2" r="4.6" stroke="#111" stroke-width="1.6" fill="none"/>
</svg></body></html>
